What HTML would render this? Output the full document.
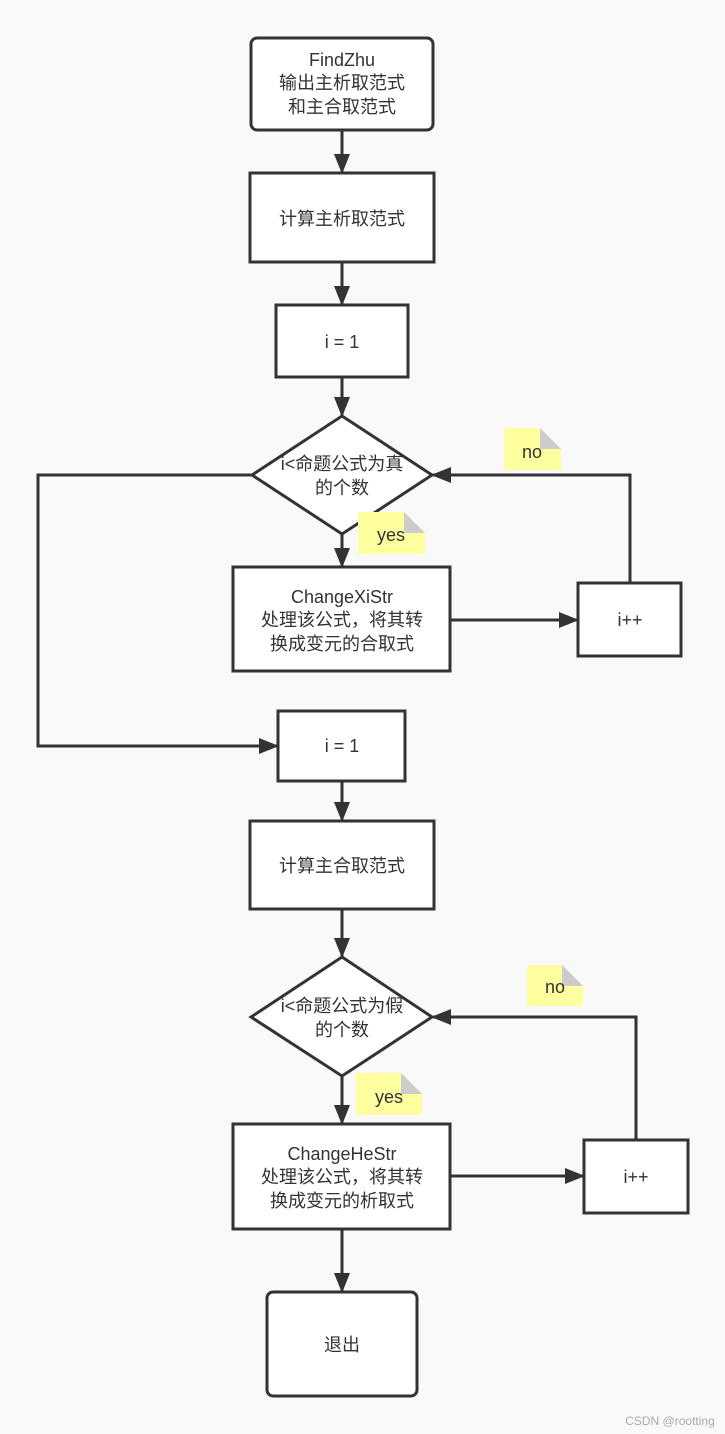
<!DOCTYPE html>
<html><head><meta charset="utf-8"><style>
html,body{margin:0;padding:0;background:#f9f9f9;}
svg{display:block;}
text{font-family:"Liberation Sans","Noto Sans CJK SC",sans-serif;font-size:18px;fill:#333;text-anchor:middle;dominant-baseline:central;}
</style></head><body>
<svg width="725" height="1434" viewBox="0 0 725 1434" xmlns="http://www.w3.org/2000/svg">
<defs><marker id="a" markerWidth="10" markerHeight="10" refX="9" refY="5" orient="auto" markerUnits="userSpaceOnUse" viewBox="0 0 10 10"><path d="M0,0 L10,5 L0,10 z" fill="#333"/></marker>
<marker id="b" markerWidth="20" markerHeight="20" refX="18" refY="8" orient="auto" markerUnits="userSpaceOnUse" viewBox="0 0 20 16"><path d="M0,0 L20,8 L0,16 z" fill="#333"/></marker></defs>
<g fill="none" stroke="#333" stroke-width="3">
<line x1="342" y1="130" x2="342" y2="172" marker-end="url(#b)"/>
<line x1="342" y1="262" x2="342" y2="304" marker-end="url(#b)"/>
<line x1="342" y1="377" x2="342" y2="415" marker-end="url(#b)"/>
<line x1="342" y1="534" x2="342" y2="566" marker-end="url(#b)"/>
<line x1="450" y1="620" x2="577" y2="620" marker-end="url(#b)"/>
<polyline points="630,583 630,475 433,475" marker-end="url(#b)"/>
<polyline points="252,475 38,475 38,746 277,746" marker-end="url(#b)"/>
<line x1="342" y1="781" x2="342" y2="820" marker-end="url(#b)"/>
<line x1="342" y1="909" x2="342" y2="956" marker-end="url(#b)"/>
<line x1="342" y1="1076" x2="342" y2="1123" marker-end="url(#b)"/>
<line x1="450" y1="1176" x2="583" y2="1176" marker-end="url(#b)"/>
<polyline points="636,1140 636,1017 433,1017" marker-end="url(#b)"/>
<line x1="342" y1="1229" x2="342" y2="1291" marker-end="url(#b)"/>
</g>
<g fill="#fff" stroke="#333" stroke-width="3">
<rect x="251" y="38" width="182" height="92" rx="6"/>
<rect x="250" y="173" width="184" height="89"/>
<rect x="276" y="305" width="132" height="72"/>
<polygon points="342,416 432,475 342,534 252,475"/>
<rect x="233" y="567" width="217" height="104"/>
<rect x="578" y="583" width="103" height="73"/>
<rect x="278" y="711" width="127" height="70"/>
<rect x="250" y="821" width="184" height="88"/>
<polygon points="342,957 432,1017 342,1076 251,1017"/>
<rect x="233" y="1124" width="217" height="105"/>
<rect x="584" y="1140" width="104" height="73"/>
<rect x="267" y="1292" width="150" height="104" rx="6"/>
</g>
<g>
<path d="M504,428 H540 L561,449 V470 H504 Z" fill="#ffffa0"/><path d="M540,428 L561,449 H540 Z" fill="#ccc"/>
<path d="M358,512 H404 L425,533 V554 H358 Z" fill="#ffffa0"/><path d="M404,512 L425,533 H404 Z" fill="#ccc"/>
<path d="M527,965 H562 L583,986 V1006 H527 Z" fill="#ffffa0"/><path d="M562,965 L583,986 H562 Z" fill="#ccc"/>
<path d="M356,1073 H401 L422,1094 V1115 H356 Z" fill="#ffffa0"/><path d="M401,1073 L422,1094 H401 Z" fill="#ccc"/>
</g>
<text x="342" y="60">FindZhu</text><text x="342" y="83">输出主析取范式</text><text x="342" y="107">和主合取范式</text>
<text x="342" y="219">计算主析取范式</text>
<text x="342" y="342">i = 1</text>
<text x="342" y="464">i&lt;命题公式为真</text><text x="342" y="488">的个数</text>
<text x="532" y="452">no</text>
<text x="391" y="535">yes</text>
<text x="342" y="597">ChangeXiStr</text><text x="342" y="620">处理该公式，将其转</text><text x="342" y="644">换成变元的合取式</text>
<text x="630" y="620">i++</text>
<text x="342" y="746">i = 1</text>
<text x="342" y="866">计算主合取范式</text>
<text x="342" y="1006">i&lt;命题公式为假</text><text x="342" y="1030">的个数</text>
<text x="555" y="987">no</text>
<text x="389" y="1097">yes</text>
<text x="342" y="1154">ChangeHeStr</text><text x="342" y="1177">处理该公式，将其转</text><text x="342" y="1201">换成变元的析取式</text>
<text x="636" y="1177">i++</text>
<text x="342" y="1345">退出</text>
<text x="670" y="1421" style="font-size:12px;fill:#aaa;">CSDN @rootting</text>
</svg>
</body></html>
